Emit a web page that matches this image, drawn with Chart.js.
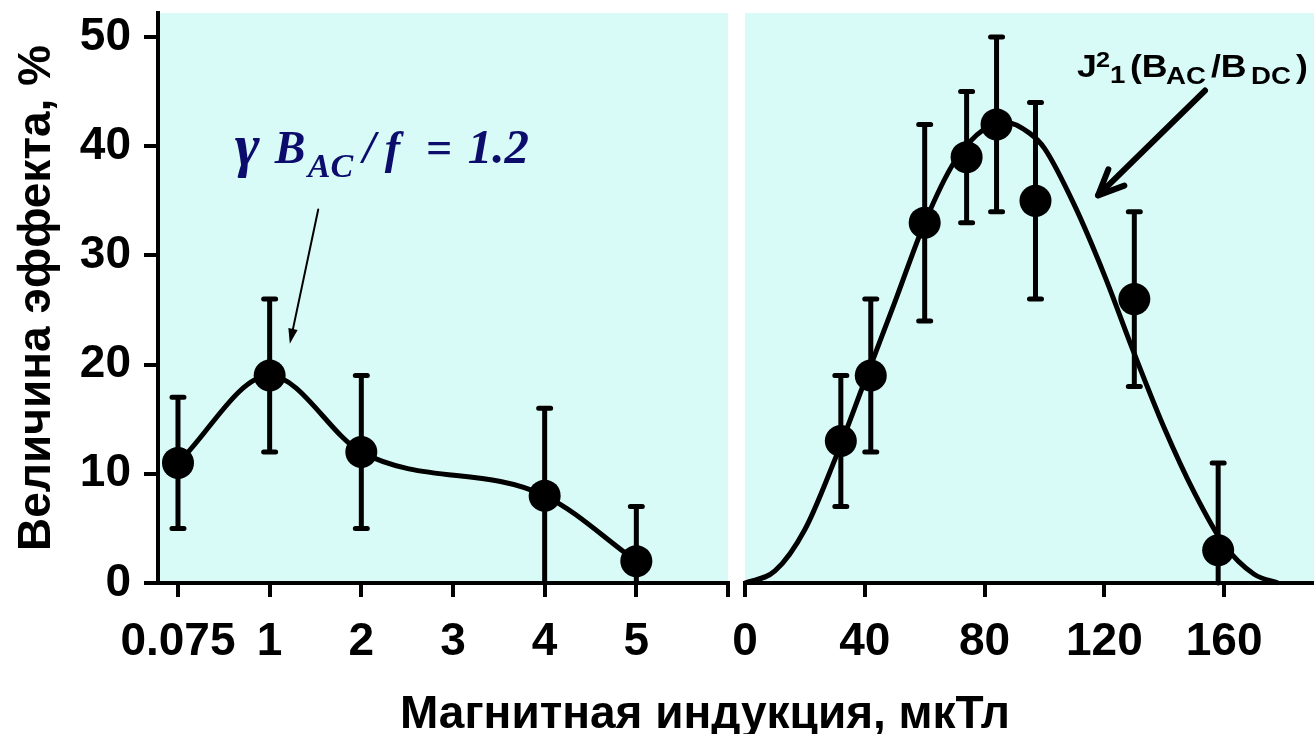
<!DOCTYPE html>
<html>
<head>
<meta charset="utf-8">
<script src="https://cdn.jsdelivr.net/npm/chart.js@4"></script>
<style>
  body { margin: 0; background: #fff; width: 1314px; height: 734px; position: relative; overflow: hidden;
         font-family: "Liberation Sans", Arial, sans-serif; }
  #left { position: absolute; left: 0; top: 0; }
  #right { position: absolute; left: 720px; top: 0; }
  #xtitle { position: absolute; left: 0; width: 1410px; top: 686px; text-align: center;
            font-weight: bold; font-size: 46px; line-height: 52px; color: #000; }
</style>
</head>
<body>
<canvas id="left" width="737" height="734"></canvas>
<canvas id="right" width="594" height="734"></canvas>
<div id="xtitle">Магнитная индукция, мкТл</div>
<script>
// left panel: 0.075 ... 5 (category positions), value, error bar ends
const leftX = [0, 1, 2, 4, 5];
const leftY = [11, 19, 12, 8, 2];
const leftLow = [5, 12, 5, 0, 0];
const leftHigh = [17, 26, 19, 16, 7];
const leftTicks = [0, 1, 2, 3, 4, 5, 6];
const leftTickLabels = ["0.075", "1", "2", "3", "4", "5", ""];

// right panel: points and the J1^2 curve
const rightX = [32, 42, 60, 74, 84, 97, 130, 158];
const rightY = [13, 19, 33, 39, 42, 35, 26, 3];
const rightLow = [7, 12, 24, 33, 34, 26, 18, 0];
const rightHigh = [19, 26, 42, 45, 50, 44, 34, 11];
const curveX = [0, 10, 20, 30, 40, 50, 60, 70, 80, 87, 95, 100, 110, 120, 130, 140, 150, 160, 170, 178];
const curveY = [0, 1.1, 4.9, 11.3, 18.5, 25.7, 33, 38.6, 41.6, 42.2, 41.2, 39.8, 34.6, 28.2, 21, 14.2, 8.3, 3.5, 0.8, 0];
const rightTicks = [0, 40, 80, 120, 160];

const yTicks = [0, 10, 20, 30, 40, 50];

Chart.defaults.font.family = '"Liberation Sans", Arial, sans-serif';
Chart.defaults.color = "#000";

const panelBg = {
  id: "panelBg",
  beforeDraw(chart) {
    const { ctx, chartArea: a } = chart;
    ctx.save();
    ctx.fillStyle = "#d9fbf8";
    ctx.fillRect(a.left, a.top, a.right - a.left, a.bottom - a.top);
    ctx.restore();
  }
};

const errBars = {
  id: "errBars",
  afterDatasetsDraw(chart, args, opts) {
    const meta = chart.getDatasetMeta(opts.ds);
    const y = chart.scales.y;
    const ctx = chart.ctx;
    ctx.save();
    ctx.strokeStyle = "#000";
    ctx.lineWidth = 5;
    ctx.lineCap = "round";
    meta.data.forEach((pt, i) => {
      const yl = y.getPixelForValue(opts.low[i]);
      const yh = y.getPixelForValue(opts.high[i]);
      ctx.beginPath();
      ctx.moveTo(pt.x, yl);
      ctx.lineTo(pt.x, yh);
      ctx.moveTo(pt.x - 6, yh);
      ctx.lineTo(pt.x + 6, yh);
      if (opts.low[i] > 0) {
        ctx.moveTo(pt.x - 6, yl);
        ctx.lineTo(pt.x + 6, yl);
      }
      ctx.stroke();
    });
    ctx.restore();
  }
};

// text made of runs: {t, at (px from start), size, dy}, sx = horizontal stretch
function drawRuns(ctx, x, y, runs, style, family, sx) {
  ctx.textBaseline = "alphabetic";
  ctx.textAlign = "left";
  for (const r of runs) {
    ctx.save();
    ctx.translate(x + r.at, y + (r.dy || 0));
    ctx.scale(sx, 1);
    ctx.font = style + " " + r.size + "px " + family;
    ctx.fillText(r.t, 0, 0);
    ctx.restore();
  }
}

function arrow(ctx, x0, y0, x1, y1, w, head, spread, filled) {
  const a = Math.atan2(y1 - y0, x1 - x0);
  ctx.lineWidth = w;
  ctx.lineCap = "round";
  ctx.lineJoin = "round";
  ctx.beginPath();
  ctx.moveTo(x0, y0);
  ctx.lineTo(filled ? x1 - Math.cos(a) * head * 0.8 : x1, filled ? y1 - Math.sin(a) * head * 0.8 : y1);
  ctx.stroke();
  const bx1 = x1 - head * Math.cos(a - spread), by1 = y1 - head * Math.sin(a - spread);
  const bx2 = x1 - head * Math.cos(a + spread), by2 = y1 - head * Math.sin(a + spread);
  ctx.beginPath();
  ctx.moveTo(bx1, by1);
  ctx.lineTo(x1, y1);
  ctx.lineTo(bx2, by2);
  if (filled) { ctx.closePath(); ctx.fill(); } else ctx.stroke();
}

const leftNote = {
  id: "leftNote",
  afterDraw(chart) {
    const { ctx, scales: { x, y } } = chart;
    ctx.save();
    ctx.fillStyle = "#0c0c6c";
    drawRuns(ctx, x.getPixelForValue(0.62), y.getPixelForValue(38.46), [
      { t: "γ", at: 0, size: 60, dy: 2 },
      { t: "B", at: 40, size: 46 },
      { t: "AC", at: 73, size: 34, dy: 14 },
      { t: "/", at: 128, size: 46 },
      { t: "f", at: 150, size: 46 },
      { t: "=", at: 191, size: 46 },
      { t: "1.2", at: 233, size: 49 }
    ], "italic bold", '"Liberation Serif", "Times New Roman", serif', 1);
    ctx.strokeStyle = "#000";
    ctx.fillStyle = "#000";
    arrow(ctx, x.getPixelForValue(1.53), y.getPixelForValue(34.2),
          x.getPixelForValue(1.22), y.getPixelForValue(21.9), 2, 16, 0.3, true);
    ctx.restore();
  }
};

const rightNote = {
  id: "rightNote",
  afterDraw(chart) {
    const { ctx, scales: { x, y } } = chart;
    ctx.save();
    ctx.fillStyle = "#000";
    drawRuns(ctx, x.getPixelForValue(110.85), y.getPixelForValue(46.34), [
      { t: "J", at: 0, size: 31 },
      { t: "2", at: 19, size: 22, dy: -10 },
      { t: "1", at: 33, size: 24, dy: 6 },
      { t: "(B", at: 53, size: 31 },
      { t: "AC", at: 89, size: 24, dy: 7 },
      { t: "/B", at: 134, size: 31 },
      { t: "DC", at: 174, size: 24, dy: 7 },
      { t: ")", at: 219, size: 31 }
    ], "bold", '"Liberation Sans", Arial, sans-serif', 1.15);
    ctx.strokeStyle = "#000";
    arrow(ctx, x.getPixelForValue(153.6), y.getPixelForValue(45.1),
          x.getPixelForValue(117.9), y.getPixelForValue(35.5), 6, 28, 0.42, false);
    ctx.restore();
  }
};

const tickFont = { size: 46, weight: "bold" };
const axisGrid = { drawOnChartArea: false, drawTicks: true, tickLength: 14, color: "#000", lineWidth: 4 };
const axisBorder = { display: true, color: "#000", width: 4 };

const yScale = (show) => ({
  display: show,
  min: 0,
  max: 52.2,
  afterBuildTicks: (s) => { s.ticks = yTicks.map((v) => ({ value: v })); },
  afterFit: (s) => {
    if (show) s.width = 158;
    s.paddingTop = 0;
    s.paddingBottom = 0;
  },
  ticks: { font: tickFont, padding: 13, color: "#000" },
  grid: axisGrid,
  border: axisBorder,
  title: { display: true, text: "Величина эффекта, %", color: "#000",
           font: { size: 46, weight: "bold" }, padding: { top: 10, bottom: 0 } }
});

const xFit = (s) => {
  s.height = 151;
  s.paddingLeft = 0;
  s.paddingRight = 0;
};

new Chart(document.getElementById("left"), {
  type: "line",
  data: {
    datasets: [{
      data: leftX.map((v, i) => ({ x: v, y: leftY[i] })),
      borderColor: "#000",
      borderWidth: 5,
      backgroundColor: "#000",
      pointRadius: 16,
      pointHoverRadius: 16,
      pointBorderWidth: 0,
      cubicInterpolationMode: "monotone",
      clip: false
    }]
  },
  options: {
    responsive: false,
    animation: false,
    events: [],
    layout: { autoPadding: false, padding: { top: 13, right: 9, left: 0, bottom: 0 } },
    plugins: {
      legend: { display: false },
      tooltip: { enabled: false },
      errBars: { ds: 0, low: leftLow, high: leftHigh }
    },
    scales: {
      x: {
        type: "linear",
        min: -0.218,
        max: 6,
        afterBuildTicks: (s) => { s.ticks = leftTicks.map((v) => ({ value: v })); },
        afterFit: xFit,
        ticks: { callback: (v, i) => leftTickLabels[i], font: tickFont, padding: 18, maxRotation: 0, autoSkip: false, color: "#000" },
        grid: axisGrid,
        border: axisBorder
      },
      y: yScale(true)
    }
  },
  plugins: [panelBg, errBars, leftNote]
});

new Chart(document.getElementById("right"), {
  type: "line",
  data: {
    datasets: [{
      data: curveX.map((v, i) => ({ x: v, y: curveY[i] })),
      borderColor: "#000",
      borderWidth: 5,
      pointRadius: 0,
      cubicInterpolationMode: "monotone",
      clip: false
    }, {
      data: rightX.map((v, i) => ({ x: v, y: rightY[i] })),
      showLine: false,
      backgroundColor: "#000",
      pointRadius: 16,
      pointHoverRadius: 16,
      pointBorderWidth: 0,
      clip: false
    }]
  },
  options: {
    responsive: false,
    animation: false,
    events: [],
    layout: { autoPadding: false, padding: { top: 13, right: 0, left: 25, bottom: 0 } },
    plugins: {
      legend: { display: false },
      tooltip: { enabled: false },
      errBars: { ds: 1, low: rightLow, high: rightHigh }
    },
    scales: {
      x: {
        type: "linear",
        min: 0,
        max: 190,
        afterBuildTicks: (s) => { s.ticks = rightTicks.map((v) => ({ value: v })); },
        afterFit: xFit,
        ticks: { font: tickFont, padding: 18, maxRotation: 0, autoSkip: false, color: "#000" },
        grid: axisGrid,
        border: axisBorder
      },
      y: yScale(false)
    }
  },
  plugins: [panelBg, errBars, rightNote]
});
</script>
</body>
</html>
